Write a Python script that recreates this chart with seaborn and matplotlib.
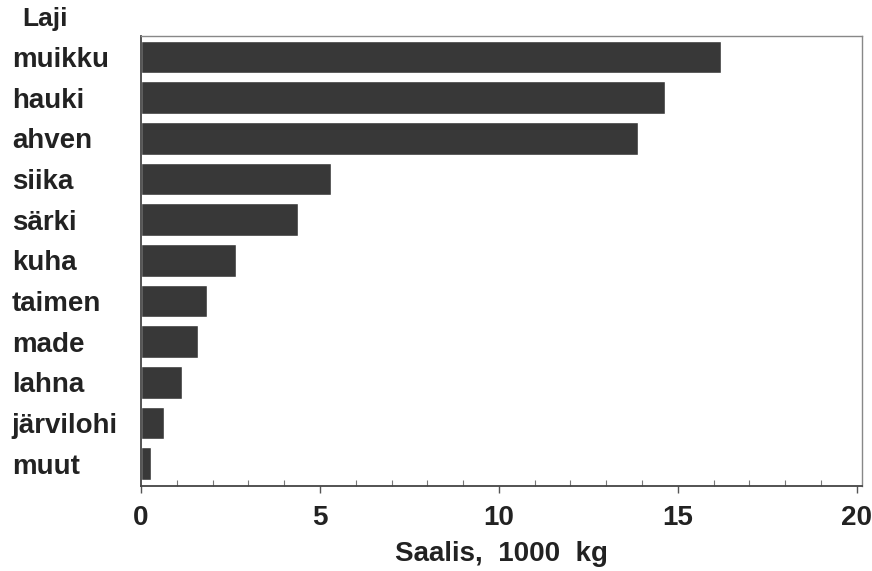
import pandas as pd
import seaborn as sns
import matplotlib.pyplot as plt
from matplotlib.ticker import MultipleLocator

# Saalis lajeittain (1000 kg)
lajit = ["muikku", "hauki", "ahven", "siika", "särki", "kuha",
         "taimen", "made", "lahna", "järvilohi", "muut"]
saalis = [16.2, 14.65, 13.9, 5.3, 4.4, 2.65, 1.85, 1.6, 1.15, 0.65, 0.28]
x_ticks = [0, 5, 10, 15, 20]

df = pd.DataFrame({"Laji": lajit, "Saalis": saalis})

sns.set_style("white")
plt.rcParams["font.family"] = ["Liberation Sans", "DejaVu Sans"]
plt.rcParams["font.weight"] = "bold"

fig = plt.figure(figsize=(8.72, 5.71), dpi=100)
ax = fig.add_axes([0.1617, 0.149, 0.827, 0.788])

sns.barplot(data=df, x="Saalis", y="Laji", orient="h", color="#383838",
            saturation=1, width=0.8, ax=ax)

ax.set_xlim(0, 20.15)
ax.set_ylim(10.55, -0.52)
ax.set_xticks(x_ticks)
ax.xaxis.set_minor_locator(MultipleLocator(1))
ax.tick_params(axis="x", which="both", bottom=True)
ax.tick_params(axis="x", which="major", direction="out", length=5, width=1,
               color="#555555", labelsize=20, pad=9, labelcolor="#222222")
ax.tick_params(axis="x", which="minor", direction="in", length=4, width=0.8,
               color="#777777")
ax.tick_params(axis="y", length=0, labelsize=20, pad=93, labelcolor="#222222")
for lab in ax.get_yticklabels():
    lab.set_horizontalalignment("left")

for side in ["top", "right"]:
    ax.spines[side].set_color("#888888")
    ax.spines[side].set_linewidth(1)
for side in ["left", "bottom"]:
    ax.spines[side].set_color("#444444")
    ax.spines[side].set_linewidth(1.3)

ax.set_ylabel("")
ax.set_xlabel("Saalis,  1000  kg", fontsize=20, fontweight="bold",
              color="#222222", labelpad=7)
fig.text(45 / 872, 1 - 19 / 571, "Laji", ha="center", va="center",
         fontsize=19, fontweight="bold", color="#222222")

fig.savefig("out.png", dpi=100)
